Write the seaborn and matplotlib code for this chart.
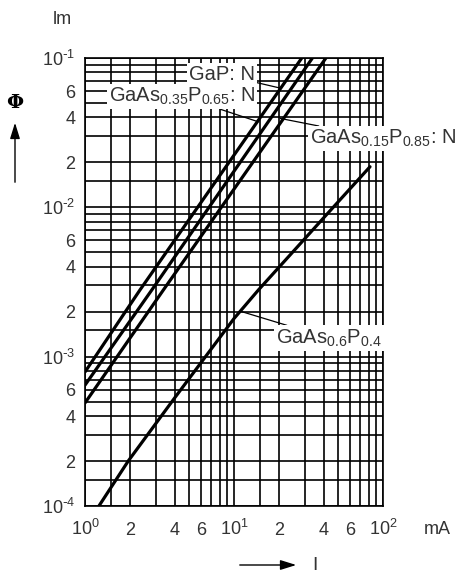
import matplotlib
matplotlib.use("Agg")
import matplotlib.pyplot as plt
from matplotlib.patches import FancyArrowPatch
import seaborn as sns
from matplotlib.ticker import FixedLocator, FixedFormatter

# luminous flux (lm) against forward current (mA)
i_gap = [1.0, 2.34, 28.5]
phi_gap = [7.9e-4, 2.8e-3, 1.0e-1]
i_gaas35 = [1.0, 2.81, 33.6]
phi_gaas35 = [6.45e-4, 2.8e-3, 1.0e-1]
i_gaas15 = [1.0, 3.36, 41.4]
phi_gaas15 = [4.9e-4, 2.8e-3, 1.0e-1]
i_gaas60 = [1.24, 1.95, 4.0, 10.0, 14.6, 40.8, 81.8]
phi_gaas60 = [1.0e-4, 2.0e-4, 5.3e-4, 1.8e-3, 2.8e-3, 8.7e-3, 1.87e-2]

curve_names = [r"GaP: N",
               r"GaAs$\mathregular{_{0.35}}$P$\mathregular{_{0.65}}$: N",
               r"GaAs$\mathregular{_{0.15}}$P$\mathregular{_{0.85}}$: N",
               r"GaAs$\mathregular{_{0.6}}$P$\mathregular{_{0.4}}$"]

# grid / tick positions
x_major = [1, 10, 100]
x_major_labels = [r"$\mathregular{10^{0}}$", r"$\mathregular{10^{1}}$", r"$\mathregular{10^{2}}$"]
y_major = [1e-4, 1e-3, 1e-2, 1e-1]
y_major_labels = [r"$\mathregular{10^{\text{-}4}}$", r"$\mathregular{10^{\text{-}3}}$",
                  r"$\mathregular{10^{\text{-}2}}$", r"$\mathregular{10^{\text{-}1}}$"]
subs = [1.5, 2, 3, 4, 5, 6, 7, 8, 9]
labelled_subs = [2, 4, 6]

sns.set_style("white")
plt.rcParams['font.family'] = ['Liberation Sans', 'DejaVu Sans']
plt.rcParams['mathtext.default'] = 'regular'
txt = '#333333'

fig = plt.figure(figsize=(4.75, 5.76), dpi=100)
ax = fig.add_axes([85/475, 1 - 506/576, 298/475, 448/576])

for xs, ys in [(i_gap, phi_gap), (i_gaas35, phi_gaas35), (i_gaas15, phi_gaas15), (i_gaas60, phi_gaas60)]:
    sns.lineplot(x=xs, y=ys, ax=ax, color='black', lw=2.3, zorder=4)

ax.set_xscale('log')
ax.set_yscale('log')
ax.set_xlim(1, 100)
ax.set_ylim(1e-4, 1e-1)

x_minor = [s * d for d in [1, 10] for s in subs]
x_minor_lab = [(f"{s:g}" if s in labelled_subs else "") for d in [1, 10] for s in subs]
y_minor = [s * d for d in [1e-4, 1e-3, 1e-2] for s in subs]
y_minor_lab = [(f"{s:g}" if s in labelled_subs else "") for d in [1e-4, 1e-3, 1e-2] for s in subs]

ax.xaxis.set_major_locator(FixedLocator(x_major))
ax.xaxis.set_major_formatter(FixedFormatter(x_major_labels))
ax.xaxis.set_minor_locator(FixedLocator(x_minor))
ax.xaxis.set_minor_formatter(FixedFormatter(x_minor_lab))
ax.yaxis.set_major_locator(FixedLocator(y_major))
ax.yaxis.set_major_formatter(FixedFormatter(y_major_labels))
ax.yaxis.set_minor_locator(FixedLocator(y_minor))
ax.yaxis.set_minor_formatter(FixedFormatter(y_minor_lab))

ax.grid(True, which='both', color='black', lw=1.2)
ax.set_axisbelow(True)
for sp in ax.spines.values():
    sp.set_color('black')
    sp.set_linewidth(1.2)

ax.tick_params(axis='both', which='both', length=0, labelsize=13, colors=txt)
ax.tick_params(axis='x', which='both', pad=21)
ax.tick_params(axis='y', which='both', pad=7)
for t in ax.xaxis.get_major_ticks() + ax.xaxis.get_minor_ticks():
    t.label1.set_verticalalignment('baseline')
for t in ax.yaxis.get_major_ticks() + ax.yaxis.get_minor_ticks():
    t.label1.set_verticalalignment('center_baseline')
ax.set_xlabel('')
ax.set_ylabel('')

# curve labels with leader lines
notes = [
    (curve_names[0], (20.4, 0.0629), (0.570, 0.951), 'right'),
    (curve_names[1], (14.56, 0.0374), (0.570, 0.902), 'right'),
    (curve_names[2], (20.4, 0.0394), (0.755, 0.808), 'left'),
    (curve_names[3], (11.3, 2.0e-3), (0.641, 0.363), 'left'),
]
for text, xy, xytext, ha in notes:
    ax.annotate(text, xy=xy, xycoords='data', xytext=xytext, textcoords='axes fraction',
                ha=ha, va='baseline', fontsize=14.5, color=txt, zorder=5,
                annotation_clip=False,
                bbox=dict(fc='white', ec='none', pad=1.5),
                arrowprops=dict(arrowstyle='-', color='black', lw=0.9, shrinkA=0, shrinkB=0))

# units and axis symbols
fig.text(62/475, 1 - 19/576, 'lm', ha='center', va='center', fontsize=13, color=txt)
fig.text(437/475, 1 - 529/576, 'mA', ha='center', va='center', fontsize=13, color=txt)
fig.text(15/475, 1 - 103/576, '\u03a6', ha='center', va='center', fontsize=14,
         family='DejaVu Serif', fontweight='bold', color='black')
fig.text(315/475, 1 - 565/576, 'I', ha='center', va='center', fontsize=14, color=txt)
arrow_kw = dict(arrowstyle='-|>,head_length=0.8,head_width=0.25', color='black', lw=1.0,
                mutation_scale=12, transform=fig.transFigure)
fig.add_artist(FancyArrowPatch((15/475, 1 - 185/576), (15/475, 1 - 120/576), **arrow_kw))
fig.add_artist(FancyArrowPatch((237/475, 1 - 565/576), (299/475, 1 - 565/576), **arrow_kw))

fig.savefig('out.png', dpi=100)
